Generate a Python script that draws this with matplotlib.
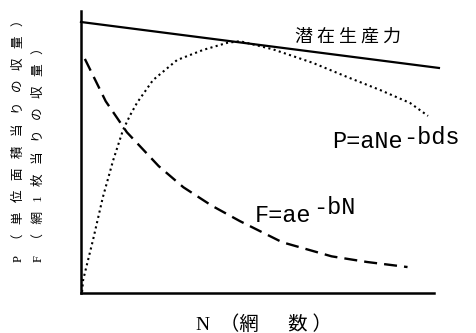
import matplotlib
matplotlib.use('Agg')
from matplotlib import pyplot as plt

# --- data (N in 0..100, yield in 0..100) --- #
potential_n = [0, 101.4]
potential_y = [96.1, 79.8]

p_n = [0.3, 0.6, 3.4, 6.2, 9.1, 11.9, 13.9, 15.9, 20.4, 27.2, 34.6, 41.4, 45, 54.4, 65.7, 75.4, 84.7, 93.2, 98.3]
p_y = [0.4, 4.6, 18.8, 34, 47, 57.8, 63, 67.5, 75.5, 82.6, 86.2, 88.7, 89.3, 86.4, 81.6, 76.6, 72, 67.4, 62.8]

f_n = [1.1, 7, 13, 22, 29, 37, 45, 57, 71, 81, 92.5]
f_y = [83, 68, 57, 45, 37.5, 31, 25.5, 18, 13, 11, 9.2]

W, H = 476, 333
cjk = ['Noto Sans CJK JP', 'DejaVu Sans']
latin_cjk = ['Liberation Serif', 'Noto Sans CJK JP']
mono = ['Liberation Mono']


def px(x, y):
    # pixel position (from top-left) -> figure fraction
    return x / W, 1 - y / H


def spaced(s, n):
    return (' ' * n).join(s)


fig = plt.figure(figsize=(W / 100, H / 100), dpi=100)
ax = fig.add_axes([81 / W, 1 - 293 / H, 353 / W, 282 / H])

ax.plot(potential_n, potential_y, '-k', lw=1.6, clip_on=False)
ax.plot(p_n, p_y, color='k', lw=1.5, linestyle=(0, (1, 1.6)), clip_on=False)
ax.plot(f_n, f_y, color='k', lw=1.7, linestyle=(0, (5.5, 3)), clip_on=False)

ax.set_xlim(0, 100)
ax.set_ylim(0, 100)
ax.set_xticks([])
ax.set_yticks([])
for side in ['top', 'right']:
    ax.spines[side].set_visible(False)
for side in ['left', 'bottom']:
    ax.spines[side].set_linewidth(1.8)
ax.spines['left'].set_bounds(0, 100)

# --- labels --- #
fig.text(*px(295, 37), spaced('潜在生産力', 1), family=cjk, fontsize=13, ha='left', va='center')

fig.text(*px(332, 148), 'P=aNe', family=mono, fontsize=17, ha='left', va='baseline')
fig.text(*px(403, 144), '-bds', family=mono, fontsize=17, ha='left', va='baseline')
fig.text(*px(255, 222), 'F=ae', family=mono, fontsize=17, ha='left', va='baseline')
fig.text(*px(313, 214), '-bN', family=mono, fontsize=17, ha='left', va='baseline')

fig.text(*px(196, 330), 'N  （網 　 数 ）', family=latin_cjk, fontsize=14, ha='left', va='baseline')

fig.text(*px(19, 262), spaced('P（単位面積当りの収量）', 3), family=latin_cjk, fontsize=9.1,
         rotation=90, ha='center', va='bottom')
fig.text(*px(39, 262), spaced('F（網1枚当りの収量）', 3), family=latin_cjk, fontsize=9.1,
         rotation=90, ha='center', va='bottom')

fig.savefig('out.png', dpi=100)
